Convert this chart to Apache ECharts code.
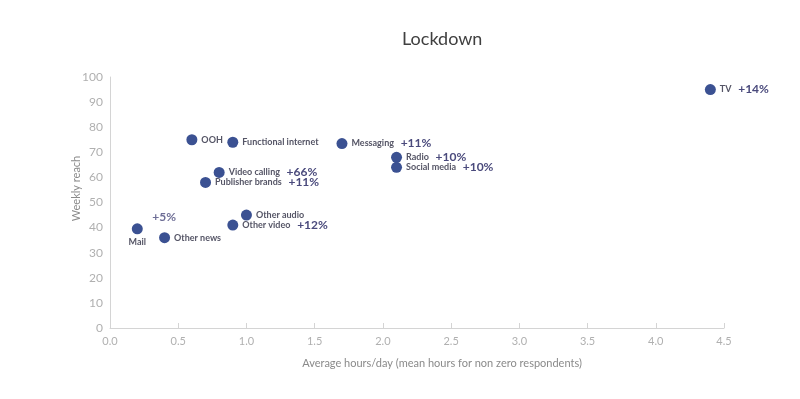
<!DOCTYPE html>
<html>
<head>
<meta charset="utf-8">
<script src="https://cdn.jsdelivr.net/npm/echarts@6/dist/echarts.min.js"></script>
<style>
html, body { margin: 0; padding: 0; background: #fff; }
#chart { width: 800px; height: 399px; }
</style>
</head>
<body>
<div id="chart"></div>
<script>
// media channels, lockdown period
var names = ['TV', 'Messaging', 'Radio', 'Social media', 'OOH', 'Functional internet', 'Video calling',
             'Publisher brands', 'Other audio', 'Other video', 'Mail', 'Other news'];
var hours = [4.4, 1.7, 2.1, 2.1, 0.6, 0.9, 0.8, 0.7, 1.0, 0.9, 0.2, 0.4];
var reach = [95, 73.5, 68, 64, 75, 74, 62, 58, 45, 41, 39.5, 36];
var growth = ['+14%', '+11%', '+10%', '+10%', '', '', '+66%', '+11%', '', '+12%', '+5%', ''];

var dotColor = '#3b5192';
var labelFont = 'Lato, "DejaVu Sans", sans-serif';

var chart = echarts.init(document.getElementById('chart'));

var mainData = names.map(function (n, i) {
    var item = { name: n, value: [hours[i], reach[i]], growth: growth[i] };
    if (n == 'Mail') {
        item.label = { position: 'bottom', distance: 3, formatter: '{n|Mail}' };
    }
    return item;
});

// extra growth label for Mail, placed above-right of its dot
var mailIdx = names.indexOf('Mail');
var mailGrowth = [{ name: 'Mail', value: [hours[mailIdx], reach[mailIdx]], growth: growth[mailIdx] }];

chart.setOption({
    animation: false,
    title: {
        text: 'Lockdown',
        left: 397,
        top: 25,
        textStyle: { fontSize: 18, fontWeight: 'normal', color: '#404040', fontFamily: labelFont }
    },
    grid: { left: 110, right: 76, top: 77, bottom: 71 },
    xAxis: {
        type: 'value',
        min: 0,
        max: 4.5,
        interval: 0.5,
        name: 'Average hours/day (mean hours for non zero respondents)',
        nameLocation: 'middle',
        nameGap: 30,
        nameTextStyle: { color: '#8a8a8a', fontSize: 11, fontFamily: labelFont, padding: [0, 0, 0, 50] },
        axisLine: { show: true, lineStyle: { color: '#d4d4d4' } },
        axisTick: { show: true, inside: true, length: 5, lineStyle: { color: '#d4d4d4' } },
        splitLine: { show: false },
        axisLabel: {
            color: '#b0b0b0', fontSize: 11, margin: 8, fontFamily: labelFont,
            formatter: function (v) { return v.toFixed(1); }
        }
    },
    yAxis: {
        type: 'value',
        min: 0,
        max: 100,
        interval: 10,
        name: 'Weekly reach',
        nameLocation: 'middle',
        nameGap: 28,
        nameMoveOverlap: false,
        nameTextStyle: { color: '#8a8a8a', fontSize: 11, fontFamily: labelFont, padding: [0, 0, 0, 28] },
        axisLine: { show: true, lineStyle: { color: '#d4d4d4' } },
        axisTick: { show: false },
        splitLine: { show: false },
        axisLabel: { color: '#b0b0b0', fontSize: 12, margin: 7, fontFamily: labelFont }
    },
    series: [{
        type: 'scatter',
        symbolSize: 11,
        itemStyle: { color: dotColor, opacity: 1 },
        data: mainData,
        label: {
            show: true,
            position: 'right',
            distance: 4,
            formatter: function (p) {
                var g = p.data.growth;
                return '{n|' + p.name + '}' + (g ? '  {p|' + g + '}' : '');
            },
            rich: {
                n: { fontSize: 9, fontWeight: 'bold', color: '#555566', fontFamily: labelFont },
                p: { fontSize: 12, fontWeight: 'bold', color: '#4a4a7c', fontFamily: labelFont }
            }
        }
    }, {
        type: 'scatter',
        symbolSize: 0,
        silent: true,
        data: mailGrowth,
        label: {
            show: true,
            position: 'right',
            offset: [10, -12],
            formatter: function (p) { return p.data.growth; },
            fontSize: 12,
            fontWeight: 'bold',
            color: '#4a4a7c',
            fontFamily: labelFont
        }
    }]
});
</script>
</body>
</html>
